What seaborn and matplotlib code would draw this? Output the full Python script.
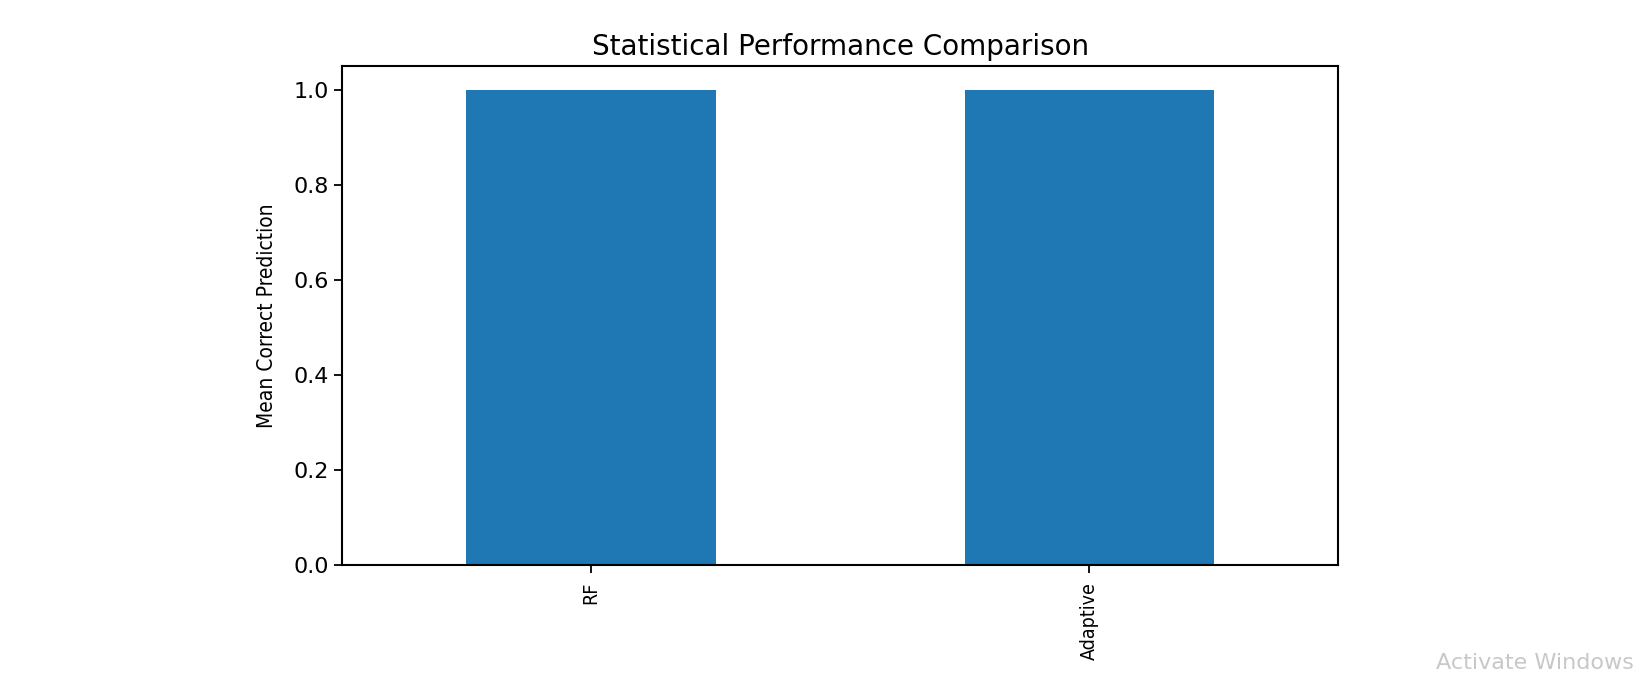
import pandas as pd
import matplotlib
matplotlib.use("Agg")
import matplotlib.pyplot as plt
import seaborn as sns

# model names and their mean correct prediction
models = ["RF", "Adaptive"]
mean_correct = [1.0, 1.0]
yticks = [0.0, 0.2, 0.4, 0.6, 0.8, 1.0]

df = pd.DataFrame({"model": models, "mean_correct": mean_correct})

fig = plt.figure(figsize=(16.36, 6.73), dpi=100)
ax = fig.add_axes([0.209, 0.160, 0.609, 0.742])

sns.barplot(data=df, x="model", y="mean_correct", color="#1f77b4",
            saturation=1, width=0.5, ax=ax, errorbar=None)

ax.set_xlim(-0.5, 1.5)
ax.set_ylim(0, 1.05)
ax.set_yticks(yticks)
ax.set_yticklabels([f"{t:.1f}" for t in yticks], fontsize=16)
ax.set_xticks(range(len(models)))
ax.set_xticklabels(models, rotation=90, fontsize=14, stretch="condensed")
ax.tick_params(axis="both", length=6, width=1.3)
ax.tick_params(axis="x", pad=6)
for sp in ax.spines.values():
    sp.set_linewidth(1.5)

ax.set_xlabel("")
ax.set_ylabel("Mean Correct Prediction", fontsize=15, stretch="condensed",
              labelpad=12)
ax.set_title("Statistical Performance Comparison", fontsize=20, pad=8)

# screenshot watermark in the corner
fig.text(0.999, 0.0, "Activate Windows", fontsize=16, color="#c8c8c8",
         ha="right", va="bottom")

fig.savefig("out.png", dpi=100)
